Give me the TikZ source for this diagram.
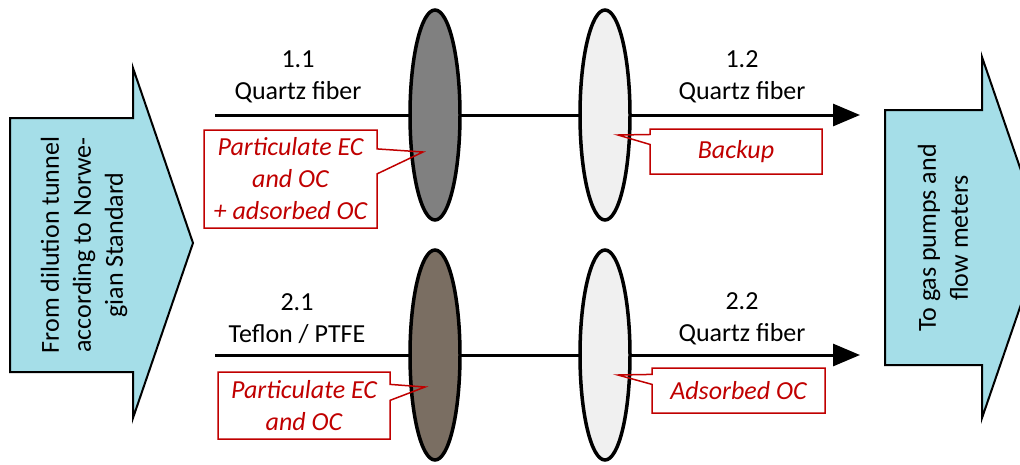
\documentclass[tikz,border=0pt]{standalone}
\usepackage{fontspec}
\setmainfont{Carlito}
\usetikzlibrary{arrows.meta,shapes.geometric,shapes.callouts}

\definecolor{cyanfill}{RGB}{165,222,232}
\definecolor{notered}{RGB}{192,0,0}
\definecolor{quartzgray}{RGB}{128,128,128}
\definecolor{teflonbrown}{RGB}{122,110,98}
\definecolor{backupgray}{RGB}{240,240,240}

\begin{document}
\begin{tikzpicture}[x=1pt,y=-1pt,>={Triangle[length=27pt,width=22pt]},line join=miter,
  font=\fontsize{26}{32}\selectfont]

    \tikzstyle{disk}=[ellipse,draw=black,line width=3.5pt,minimum width=50pt,minimum height=210pt,inner sep=0pt]
    \tikzstyle{pipe}=[->,line width=3pt]
    \tikzstyle{blockarrow}=[draw=black,fill=cyanfill,line width=2pt]
    \tikzstyle{tag}=[align=center]
    \tikzstyle{remark}=[rectangle callout,draw=notered,text=notered,line width=1.5pt,
      font=\fontsize{26}{32}\selectfont\itshape,align=center,inner sep=0pt]

    \useasboundingbox (0,0) rectangle (1020,464);
    \clip (0,0) rectangle (1020,464);

    % in and out
    \filldraw[blockarrow] (10,118) -- (133,118) -- (133,68) -- (193,243) -- (133,418) -- (133,372) -- (10,372) -- cycle;
    \filldraw[blockarrow] (885,110) -- (982,110) -- (982,57) -- (1044,237.5) -- (982,418) -- (982,365) -- (885,365) -- cycle;
    \node[rotate=90,align=center] (in)  at (84,245)  {From dilution tunnel\\according to Norwe-\\gian Standard};
    \node[rotate=90,align=center] (out) at (943,238) {To gas pumps and\\flow meters};

    % sampling lines
    \coordinate (s1) at (215,115);
    \coordinate (e1) at (860,115);
    \coordinate (s2) at (215,355);
    \coordinate (e2) at (860,355);
    \draw[pipe] (s1) -- (e1);
    \draw[pipe] (s2) -- (e2);

    \node[disk,fill=quartzgray]  (11) at (435,115) {};
    \node[disk,fill=backupgray]  (12) at (605,115) {};
    \node[disk,fill=teflonbrown] (21) at (435,355) {};
    \node[disk,fill=backupgray]  (22) at (605,355) {};

    \node[tag] (t11) at (298,77)    {1.1\\Quartz fiber};
    \node[tag] (t12) at (742,77)    {1.2\\Quartz fiber};
    \node[tag] (t21) at (297,319) {2.1\\Teflon / PTFE};
    \node[tag] (t22) at (742,319) {2.2\\Quartz fiber};

    \node[remark,minimum width=173pt,minimum height=98pt,callout pointer width=25pt,
      callout absolute pointer={(423,152)}] (r11) at (290.5,179) {Particulate EC\\and OC\\+ adsorbed OC};
    \node[remark,minimum width=172pt,minimum height=45pt,callout pointer width=10pt,
      callout absolute pointer={(618,135)}] (r12) at (736,151.5) {Backup};
    \node[remark,minimum width=172pt,minimum height=67pt,callout pointer width=16pt,
      callout absolute pointer={(425,387)}] (r21) at (304,405.5) {Particulate EC\\and OC};
    \node[remark,minimum width=173pt,minimum height=45pt,callout pointer width=10pt,
      callout absolute pointer={(618,375)}] (r22) at (738.5,390.5) {Adsorbed OC};

\end{tikzpicture}
\end{document}
